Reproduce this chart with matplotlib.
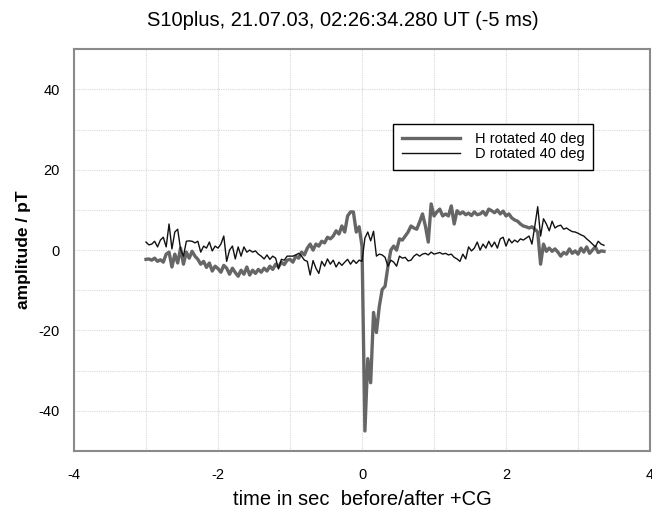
import numpy as np
import matplotlib
matplotlib.use("Agg")
import matplotlib.pyplot as plt
from matplotlib.ticker import MultipleLocator

# time axis: samples every 0.04 s, starting 3 s before the stroke
t_start = -3.0
t_step = 0.04

# H rotated 40 deg (pT)
h_rot = [
    -2.3, -2.2, -2.5, -2.0, -2.8, -2.4, -3.0, -1.0, -0.5, -4.2,
    -1.0, -3.2, 0.5, -3.5, -0.5, -2.0, -0.3, -1.5, -2.3, -3.5,
    -2.8, -4.3, -3.2, -5.2, -4.0, -4.6, -5.5, -3.8, -4.5, -6.0,
    -4.5, -5.6, -6.5, -5.0, -6.0, -4.2, -6.2, -5.0, -5.8, -4.8,
    -5.5, -4.5, -5.2, -4.0, -4.8, -3.5, -4.2, -3.0, -3.6, -2.5,
    -2.3, -3.0, -1.5, -2.0, -0.5, -1.2, 0.5, 1.5, 0.0, 1.5,
    1.0, 2.2, 1.8, 3.2, 2.8, 3.5, 4.8, 4.0, 6.0, 4.5,
    8.5, 9.5, 9.5, 4.5, 5.8, 1.0, -45.0, -27.0, -33.0, -15.5,
    -20.5, -14.0, -9.8, -9.0, -4.0, 0.0, 1.0, 0.0, 2.8, 2.5,
    3.5, 4.5, 6.0, 5.5, 5.2, 7.0, 9.0, 6.0, 2.0, 11.5,
    8.5, 9.5, 10.2, 8.5, 9.0, 8.5, 11.0, 6.5, 9.8, 9.0,
    9.5, 8.8, 9.2, 8.6, 9.5, 8.8, 9.0, 9.6, 8.7, 10.2,
    9.8, 9.3, 10.0, 9.0, 9.7, 8.5, 9.0, 8.0, 7.5, 7.2,
    6.5, 6.0, 5.8, 5.5, 5.8, 5.2, 4.5, -3.5, 1.5, -0.3,
    0.5, -0.3, 0.3, -0.5, -1.5, -0.6, -1.0, 0.3, -0.8, -0.2,
    -1.0, 0.5, -0.5, 0.8, -0.8, 0.0, 0.8, -0.6, -0.2, -0.3,
]

# D rotated 40 deg (pT)
d_rot = [
    2.0, 1.3, 1.5, 2.2, 0.8, 2.5, 3.2, 0.8, 6.5, 0.3,
    4.5, 5.2, 0.2, -1.5, 2.2, 2.3, 2.2, 1.8, 2.2, -0.5,
    1.0, 0.5, 2.0, -0.2, 1.0, 0.5, 1.5, 3.5, -2.8, 0.0,
    1.0, -2.2, 0.8, -1.5, 0.8, -0.5, 0.0, -0.5, -0.2, -1.0,
    -1.5, -2.2, -1.2, -2.3, -1.5, -2.0, -4.7, -2.3, -2.5, -1.5,
    -1.5, -1.5, -1.2, -0.8, -1.5, -2.5, -2.8, -6.2, -2.6, -4.5,
    -5.8, -2.8, -4.0, -2.2, -3.5, -2.5, -4.2, -3.0, -3.8, -3.0,
    -2.3, -3.5, -2.5, -3.3, -2.5, -2.8, 3.0, 4.5, 2.3, 4.7,
    -1.5, -1.0, -1.2, -1.8, -4.0, -2.5, -3.0, -4.0, -1.5, -2.0,
    -1.8, -2.7, -2.5, -1.5, -1.0, -1.5, -1.0, -0.8, -1.2, -0.5,
    -1.0, -0.8, -0.6, -1.0, -0.8, -1.2, -1.0, -1.8, -2.2, -2.8,
    -1.0, -2.2, 0.8, -0.2, 0.5, 2.0, 0.0, 1.5, 0.5, 2.2,
    0.8, 2.0, 0.5, 2.8, 3.2, 1.0, 2.8, 1.8, 2.5, 2.0,
    2.8, 2.5, 3.0, 3.5, 1.5, 6.0, 10.8, 3.5, 7.8, 6.5,
    4.8, 7.2, 5.5, 6.0, 6.2, 5.2, 5.5, 5.0, 4.6, 4.5,
    4.2, 3.8, 3.5, 2.8, 2.2, 1.5, 0.8, 2.2, 1.5, 1.2,
]

time = t_start + t_step * np.arange(len(h_rot))

plt.rcParams['font.family'] = ['Liberation Sans', 'DejaVu Sans']
plt.rcParams['axes.unicode_minus'] = False

fig = plt.figure(figsize=(6.52, 5.12), dpi=100)
ax = fig.add_axes([0.1135, 0.119, 0.8835, 0.785])

ax.plot(time, h_rot, color='#666666', lw=2.4, label='H rotated 40 deg')
ax.plot(time, d_rot, color='#111111', lw=1.0, label='D rotated 40 deg')

ax.set_xlim(-4, 4)
ax.set_ylim(-50, 50)
ax.xaxis.set_major_locator(MultipleLocator(2))
ax.xaxis.set_minor_locator(MultipleLocator(1))
ax.yaxis.set_major_locator(MultipleLocator(20))
ax.yaxis.set_minor_locator(MultipleLocator(10))
ax.grid(True, which='both', color='#d8d8d8', lw=0.8, ls=(0, (1, 1)))
ax.tick_params(which='both', length=0, labelsize=10.5, pad=10)
ax.tick_params(axis='x', pad=12)

for s in ax.spines.values():
    s.set_color('#8a8a8a')
    s.set_linewidth(1.5)

# title sits a bit left of the axes centre in the original
fig.text(0.526, 0.96, 'S10plus, 21.07.03, 02:26:34.280 UT (-5 ms)',
         fontsize=14.5, ha='center', va='center')
ax.set_xlabel('time in sec  before/after +CG', fontsize=14.5, labelpad=6)
ax.set_ylabel('amplitude / pT', fontsize=12.5, fontweight='bold', labelpad=6)

leg = ax.legend(loc='upper right', bbox_to_anchor=(0.901, 0.815), fontsize=10.5,
                frameon=True, fancybox=False, framealpha=1, edgecolor='black',
                handlelength=4.0, handletextpad=1.0, borderpad=0.6,
                labelspacing=0.05, borderaxespad=0)
leg.get_frame().set_linewidth(1.0)

fig.savefig('out.png', dpi=100)
